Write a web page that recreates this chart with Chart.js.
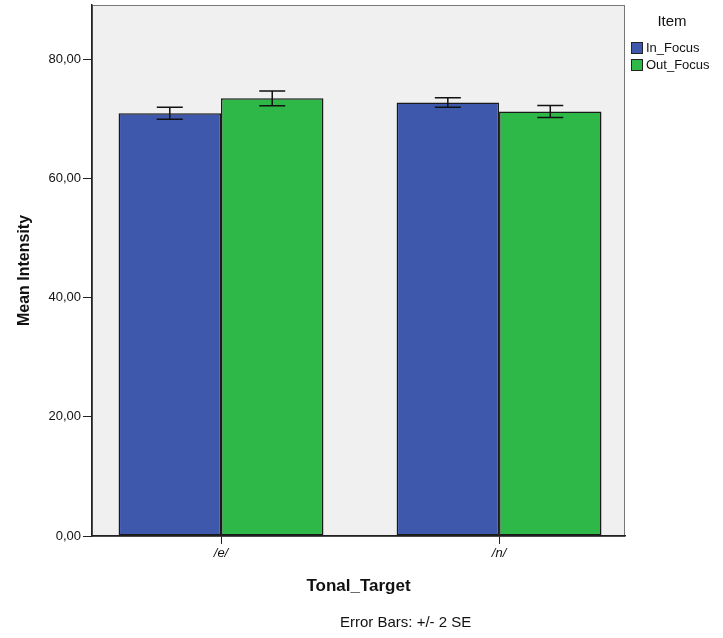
<!DOCTYPE html>
<html>
<head>
<meta charset="utf-8">
<script src="https://cdn.jsdelivr.net/npm/chart.js@4/dist/chart.umd.min.js"></script>
<style>
  html, body { margin: 0; padding: 0; background: #fff; }
  #wrap { width: 723px; height: 638px; position: relative; }
</style>
</head>
<body>
<div id="wrap"><canvas id="chartCanvas"></canvas></div>
<script>
// values
const categories = ['/e/', '/n/'];
const seriesNames = ['In_Focus', 'Out_Focus'];
const inFocus = [70.9, 72.7];
const outFocus = [73.4, 71.2];
const inFocusErr = [1.0, 0.8];
const outFocusErr = [1.25, 1.0];
const yTicks = [0, 20, 40, 60, 80];

const colors = ['#3e58ac', '#2eb848'];

function toPoints(vals) {
    return vals.map((v, i) => ({ x: i, y: v }));
}

const frameAndExtras = {
    id: 'frameAndExtras',
    beforeDraw(chart) {
        const { ctx, chartArea: a } = chart;
        ctx.save();
        ctx.fillStyle = '#f0f0f0';
        ctx.fillRect(a.left, a.top, a.right - a.left, a.bottom - a.top);
        ctx.strokeStyle = '#777';
        ctx.lineWidth = 1;
        ctx.strokeRect(a.left + 0.5, a.top + 0.5, a.right - a.left - 1, a.bottom - a.top);
        ctx.restore();
    },
    afterDatasetsDraw(chart) {
        const { ctx } = chart;
        const y = chart.scales.y;
        const errs = [inFocusErr, outFocusErr];
        ctx.save();
        ctx.strokeStyle = '#111';
        ctx.lineWidth = 1.5;
        chart.data.datasets.forEach((ds, di) => {
            chart.getDatasetMeta(di).data.forEach((bar, i) => {
                const v = ds.data[i].y;
                const e = errs[di][i];
                const top = y.getPixelForValue(v + e);
                const bot = y.getPixelForValue(v - e);
                const x = bar.x;
                ctx.beginPath();
                ctx.moveTo(x, top); ctx.lineTo(x, bot);
                ctx.moveTo(x - 13, top); ctx.lineTo(x + 13, top);
                ctx.moveTo(x - 13, bot); ctx.lineTo(x + 13, bot);
                ctx.stroke();
            });
        });
        ctx.restore();
    },
    afterDraw(chart) {
        const { ctx } = chart;
        ctx.save();
        ctx.fillStyle = '#111';
        ctx.textBaseline = 'middle';
        ctx.font = '15px "Liberation Sans", Arial, sans-serif';
        ctx.textAlign = 'center';
        ctx.fillText('Item', 672, 22);
        ctx.font = '13px "Liberation Sans", Arial, sans-serif';
        ctx.textAlign = 'left';
        chart.data.datasets.forEach((ds, i) => {
            const by = 42 + i * 17;
            ctx.fillStyle = ds.backgroundColor;
            ctx.fillRect(631, by, 12, 12);
            ctx.strokeStyle = '#222';
            ctx.lineWidth = 1;
            ctx.strokeRect(631.5, by + 0.5, 11, 11);
            ctx.fillStyle = '#111';
            ctx.fillText(ds.label, 646, by + 6);
        });
        ctx.font = '15px "Liberation Sans", Arial, sans-serif';
        ctx.fillText('Error Bars: +/- 2 SE', 340, 623);
        ctx.restore();
    }
};

new Chart(document.getElementById('chartCanvas'), {
    type: 'bar',
    data: {
        datasets: [
            { label: seriesNames[0], data: toPoints(inFocus), backgroundColor: colors[0], borderColor: '#1a1a1a', borderWidth: 1.5, borderSkipped: false },
            { label: seriesNames[1], data: toPoints(outFocus), backgroundColor: colors[1], borderColor: '#1a1a1a', borderWidth: 1.5, borderSkipped: false }
        ]
    },
    options: {
        responsive: true,
        maintainAspectRatio: false,
        animation: false,
        categoryPercentage: 0.737,
        barPercentage: 1,
        layout: { padding: { left: 0, right: 98, top: 5, bottom: 0 } },
        plugins: { legend: { display: false }, tooltip: { enabled: false } },
        scales: {
            x: {
                type: 'linear',
                offset: false,
                min: -0.464,
                max: 1.453,
                afterBuildTicks: (scale) => { scale.ticks = categories.map((c, i) => ({ value: i })); },
                afterFit: (scale) => { scale.height = 102; scale.paddingLeft = 0; scale.paddingRight = 0; },
                ticks: {
                    callback: (v) => categories[v],
                    color: '#111',
                    font: { family: '"Liberation Sans", Arial, sans-serif', size: 13, style: 'italic' },
                    padding: 2,
                    maxRotation: 0
                },
                grid: { display: true, offset: false, drawOnChartArea: false, drawTicks: true, tickLength: 8, color: '#222' },
                border: { display: true, color: '#222', width: 1.5 },
                title: {
                    display: true,
                    text: 'Tonal_Target',
                    color: '#111',
                    font: { family: '"Liberation Sans", Arial, sans-serif', size: 17, weight: 'bold' },
                    padding: { top: 0, bottom: 41 }
                }
            },
            y: {
                min: 0,
                max: 89.06,
                afterBuildTicks: (scale) => { scale.ticks = yTicks.map(v => ({ value: v })); },
                afterFit: (scale) => { scale.width = 92; scale.paddingTop = 0; scale.paddingBottom = 0; },
                ticks: {
                    callback: (v) => v.toFixed(2).replace('.', ','),
                    color: '#111',
                    font: { family: '"Liberation Sans", Arial, sans-serif', size: 13 },
                    padding: 2
                },
                grid: { display: true, drawOnChartArea: false, drawTicks: true, tickLength: 9, color: '#222' },
                border: { display: true, color: '#222', width: 1.5 },
                title: {
                    display: true,
                    text: 'Mean Intensity',
                    color: '#111',
                    font: { family: '"Liberation Sans", Arial, sans-serif', size: 16, weight: 'bold' },
                    padding: { top: 15, bottom: 0 }
                }
            }
        }
    },
    plugins: [frameAndExtras]
});
</script>
</body>
</html>
